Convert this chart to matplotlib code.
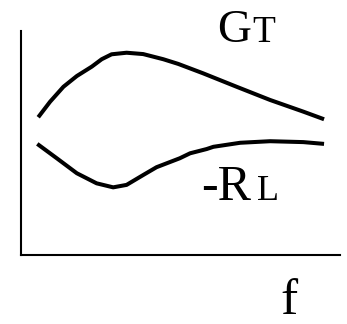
import matplotlib
matplotlib.use("Agg")
import matplotlib.pyplot as plt

# curve shapes (x, y in 0..1 of the axes box)
gt_x = [0.054, 0.091, 0.133, 0.175, 0.222, 0.253, 0.284, 0.331, 0.383, 0.446,
        0.493, 0.571, 0.676, 0.781, 0.885, 0.950]
gt_y = [0.615, 0.684, 0.751, 0.799, 0.841, 0.874, 0.896, 0.903, 0.897, 0.874,
        0.853, 0.811, 0.751, 0.692, 0.640, 0.606]

rl_x = [0.051, 0.112, 0.175, 0.237, 0.289, 0.331, 0.383, 0.425, 0.498, 0.530,
        0.582, 0.603, 0.687, 0.781, 0.885, 0.950]
rl_y = [0.496, 0.432, 0.365, 0.320, 0.302, 0.313, 0.357, 0.392, 0.432, 0.454,
        0.473, 0.483, 0.501, 0.508, 0.504, 0.496]

font = "Liberation Serif"

fig = plt.figure(figsize=(3.47, 3.24), dpi=100)
ax = fig.add_axes([21 / 347, 69 / 324, 319 / 347, 224 / 324])

ax.plot(gt_x, gt_y, color="black", lw=2.9, solid_capstyle="butt", solid_joinstyle="round")
ax.plot(rl_x, rl_y, color="black", lw=2.9, solid_capstyle="butt", solid_joinstyle="round")

ax.set_xlim(0, 1)
ax.set_ylim(0, 1)
ax.set_xticks([])
ax.set_yticks([])
for s in ["top", "right"]:
    ax.spines[s].set_visible(False)
for s in ["left", "bottom"]:
    ax.spines[s].set_linewidth(1.5)

# labels: big first letter, smaller second letter on the same baseline
fig.text(217 / 347, 1 - 42 / 324, "G", fontsize=34, family=font, va="baseline")
fig.text(252 / 347, 1 - 42 / 324, "T", fontsize=27, family=font, va="baseline")
fig.text(201 / 347, 1 - 200 / 324, "-R", fontsize=36, family=font, va="baseline")
fig.text(257 / 347, 1 - 200 / 324, "L", fontsize=26, family=font, va="baseline")
fig.text(280 / 347, 1 - 314 / 324, "f", fontsize=37, family=font, va="baseline")

fig.savefig("out.png", dpi=100)
